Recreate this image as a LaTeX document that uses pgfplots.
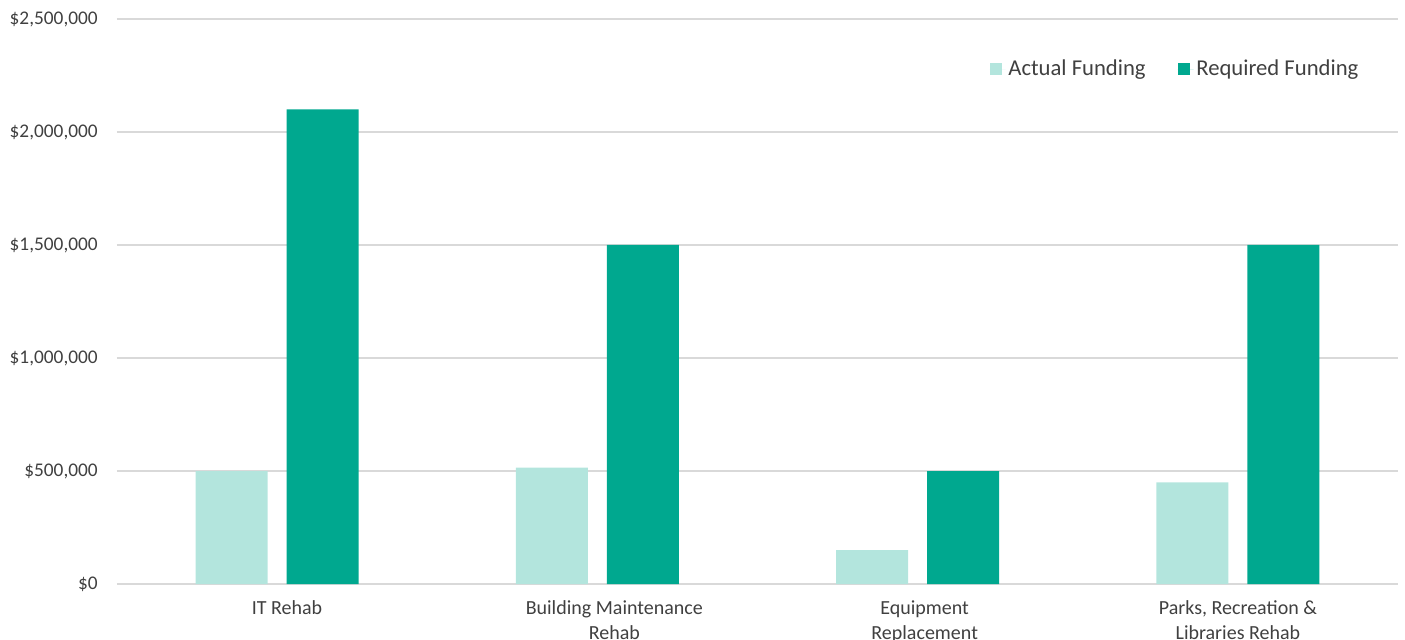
\documentclass[border=0pt]{standalone}
\usepackage{pgfplots}
\pgfplotsset{compat=1.18}
\usepackage{fontspec}
\setmainfont{Carlito}
\definecolor{req}{RGB}{0,168,143}
\definecolor{act}{RGB}{179,229,221}
\definecolor{gridc}{RGB}{217,217,217}
\definecolor{txt}{RGB}{64,64,64}
\begin{document}
\begin{tikzpicture}
\begin{axis}[
  at={(0,0)}, anchor=south west,
  scale only axis, width=960.75pt, height=423.75pt,
  xmin=-0.5, xmax=3.5, ymin=0, ymax=2500000,
  ybar, bar width=54pt,
  axis line style={draw=none},
  major tick length=0pt,
  scaled y ticks=false,
  ymajorgrids, grid style={gridc, line width=1pt},
  ytick={0,500000,1000000,1500000,2000000,2500000},
  yticklabels={{\$0},{\$500,000},{\$1,000,000},{\$1,500,000},{\$2,000,000},{\$2,500,000}},
  yticklabel style={anchor=east, inner sep=0pt, xshift=-14.25pt, text=txt, font=\fontsize{14.5}{18.4}\selectfont},
  xtick={0.031,1.053,2.022,3},
  xticklabels={{IT Rehab},{Building Maintenance\\Rehab},{Equipment\\Replacement},{Parks, Recreation \&\\Libraries Rehab}},
  xticklabel style={anchor=north, align=center, inner sep=0pt, yshift=-12.5pt, text=txt, font=\fontsize{15}{18.4}\selectfont},
  legend columns=2,
  legend style={at={(rel axis cs:0.9745,0.937)}, anchor=north east, draw=none, fill=none,
    font=\fontsize{17}{20}\selectfont, text=txt,
    /tikz/every even column/.append style={column sep=22pt}},
  legend image code/.code={\fill[#1,draw=none] (0pt,-4.7pt) rectangle (9.4pt,4.7pt); \path (0pt,0pt) -- (12pt,0pt);},
]
\addplot[fill=act, draw=none, bar shift=-34.125pt] coordinates {(0,500000) (1,515000) (2,150000) (3,450000)};
\addlegendentry{Actual Funding}
\addplot[fill=req, draw=none, bar shift=34.125pt] coordinates {(0,2100000) (1,1500000) (2,500000) (3,1500000)};
\addlegendentry{Required Funding}
\end{axis}
\pgfresetboundingbox
\path (-87.75pt,-41.25pt) rectangle (966pt,438pt);
\end{tikzpicture}
\end{document}
